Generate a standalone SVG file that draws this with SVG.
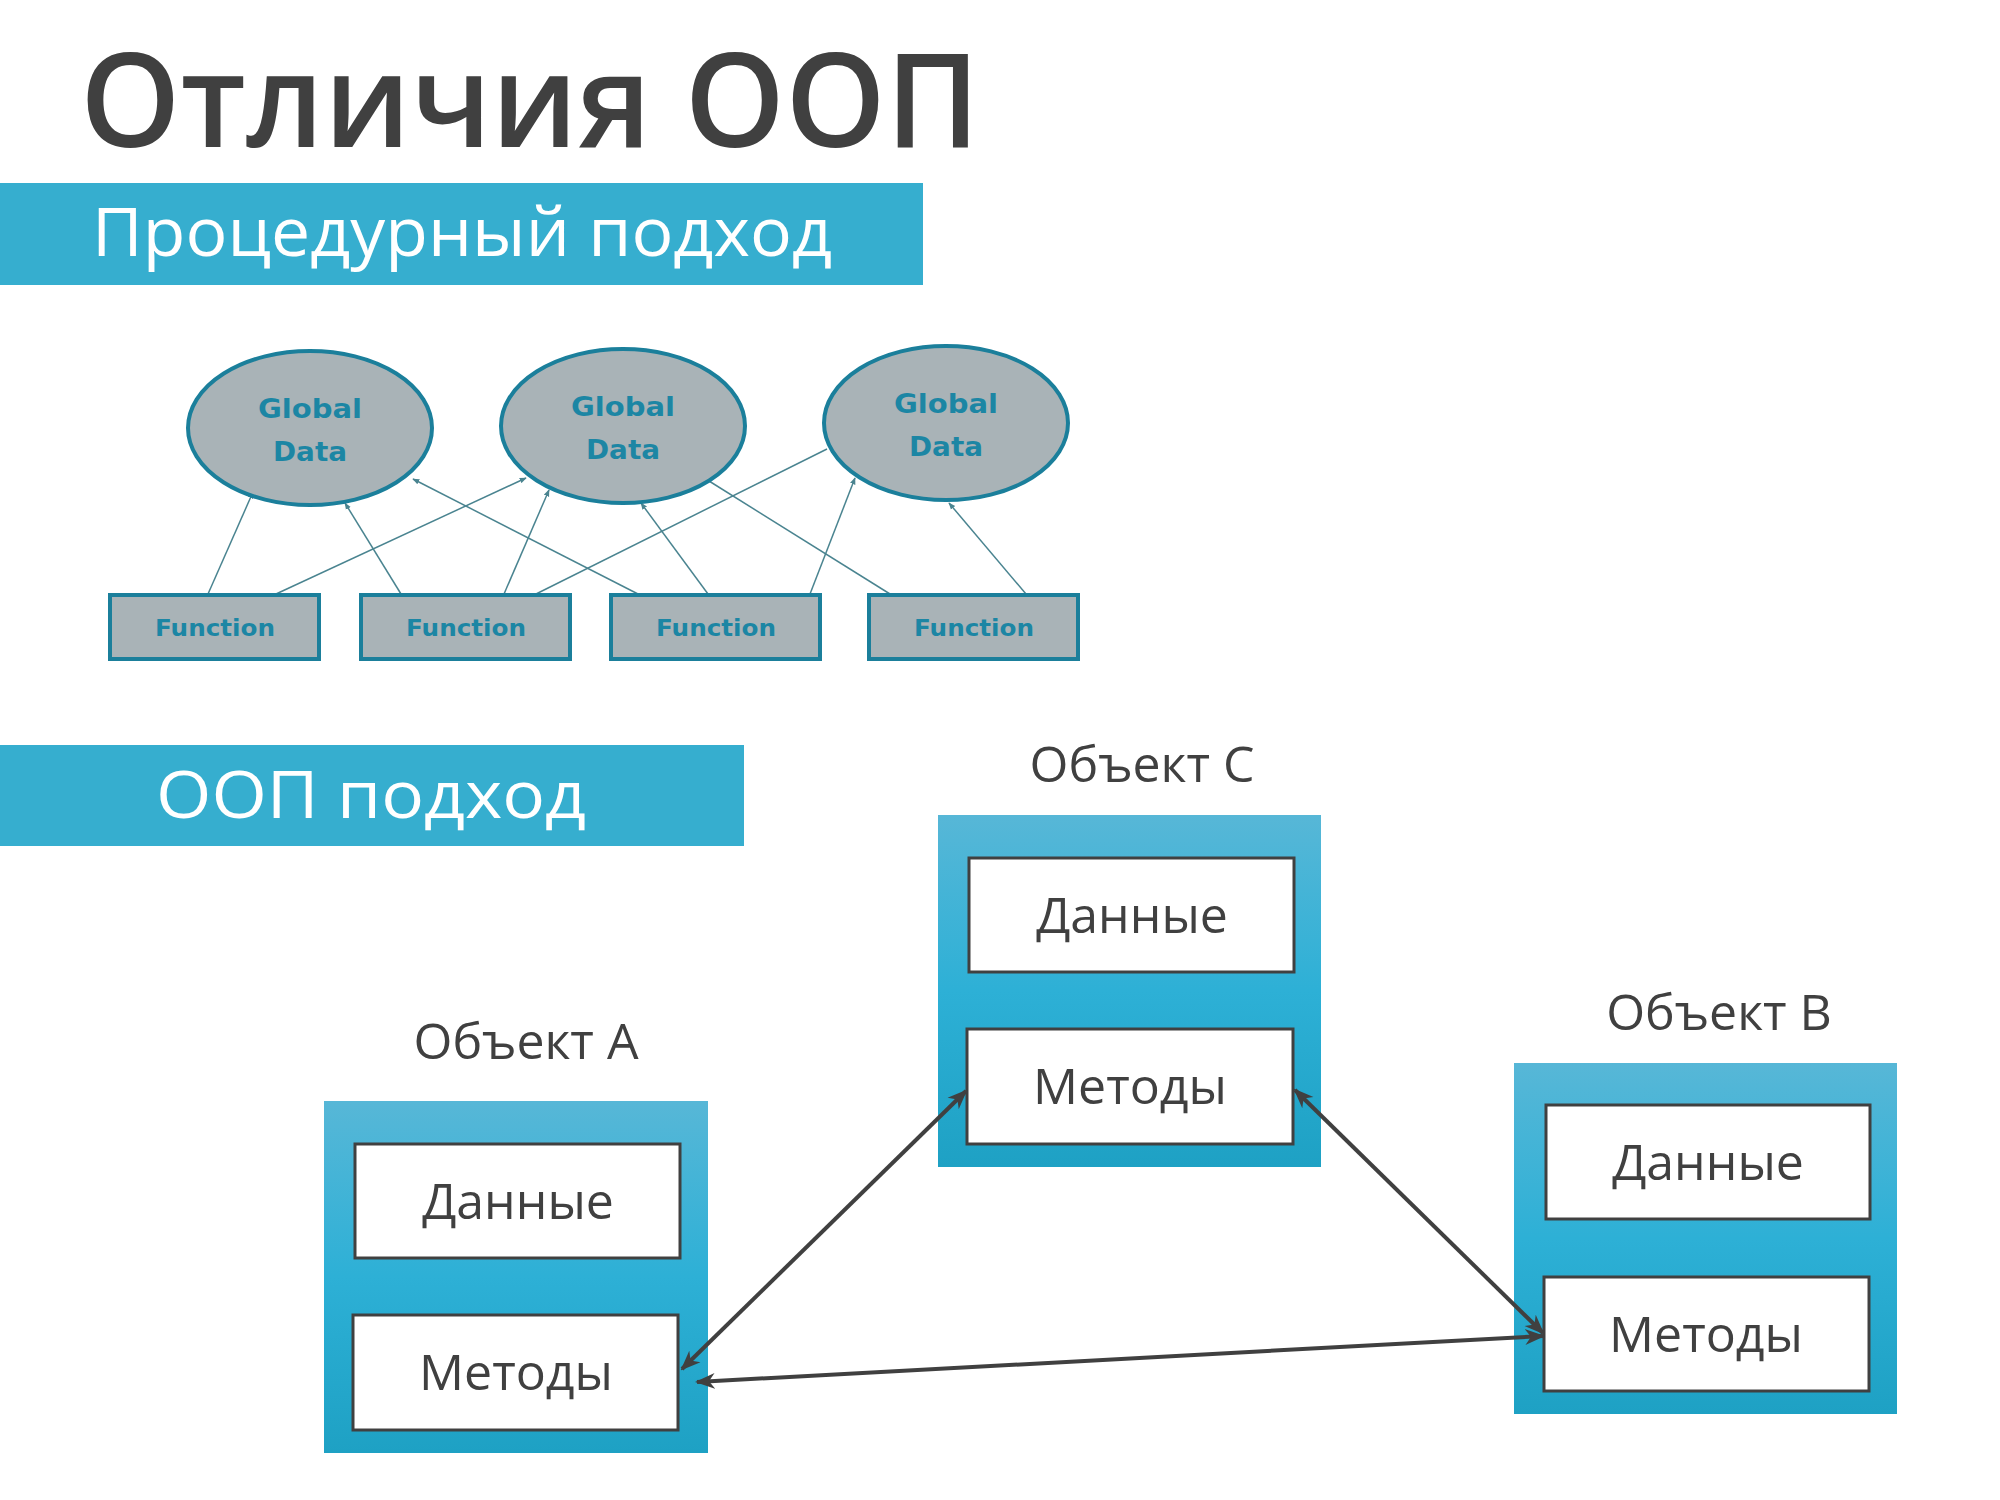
<svg xmlns="http://www.w3.org/2000/svg" width="2000" height="1500" viewBox="0 0 2000 1500">
<defs>
<style>
.title{font-family:"Open Sans","Noto Sans",sans-serif;font-weight:600;fill:#404040}
.ban{font-family:"Open Sans","Noto Sans",sans-serif;font-weight:500;fill:#ffffff}
.gd{font-family:"DejaVu Sans","Liberation Sans",sans-serif;font-weight:bold;fill:#1C86A4;font-size:27px;text-anchor:middle}
.fn{font-family:"DejaVu Sans","Liberation Sans",sans-serif;font-weight:bold;fill:#1C86A4;font-size:23px;text-anchor:middle}
.ell{fill:#A9B3B7;stroke:#1B7F9B;stroke-width:4}
.fbox{fill:#A9B3B7;stroke:#1B7F9B;stroke-width:4}
.thin{stroke:#4A8490;stroke-width:1.5;fill:none}
.lbl{font-family:"Open Sans","Noto Sans",sans-serif;font-weight:400;fill:#404040;font-size:50px;text-anchor:middle}
.inner{fill:#ffffff;stroke:#404040;stroke-width:3}
.it{font-family:"Open Sans","Noto Sans",sans-serif;font-weight:400;fill:#404040;font-size:50px;text-anchor:middle}
.dark{stroke:#404040;stroke-width:4;fill:none}
</style>
<linearGradient id="cg" x1="0" y1="0" x2="0" y2="1">
<stop offset="0" stop-color="#57B7D7"/>
<stop offset="0.5" stop-color="#2DB0D6"/>
<stop offset="1" stop-color="#1EA1C4"/>
</linearGradient>
<marker id="sa" viewBox="0 0 10 10" refX="9" refY="5" markerWidth="7" markerHeight="7" orient="auto" markerUnits="userSpaceOnUse">
<path d="M0,1 L10,5 L0,9 z" fill="#4A8490"/>
</marker>
<marker id="da" viewBox="0 0 10 10" refX="9" refY="5" markerWidth="20" markerHeight="20" orient="auto-start-reverse" markerUnits="userSpaceOnUse">
<path d="M0,1 L10,5 L0,9 L3,5 z" fill="#404040"/>
</marker>
</defs>
<rect width="2000" height="1500" fill="#ffffff"/>

<g id="title">
<text class="title" x="80" y="147" font-size="130" textLength="900" lengthAdjust="spacingAndGlyphs">Отличия ООП</text>
</g>

<g id="banner-proc">
<rect x="0" y="183" width="923" height="102" fill="#36AECF"/>
<text class="ban" x="92" y="256" font-size="68" textLength="740" lengthAdjust="spacingAndGlyphs">Процедурный подход</text>
</g>

<g id="connectors-proc">
<line class="thin" x1="208" y1="594" x2="253" y2="492" marker-end="url(#sa)"/>
<line class="thin" x1="276" y1="594" x2="526" y2="478" marker-end="url(#sa)"/>
<line class="thin" x1="401" y1="594" x2="345" y2="503" marker-end="url(#sa)"/>
<line class="thin" x1="504" y1="594" x2="549" y2="490" marker-end="url(#sa)"/>
<line class="thin" x1="536" y1="594" x2="827" y2="449"/>
<line class="thin" x1="638" y1="594" x2="413" y2="479" marker-end="url(#sa)"/>
<line class="thin" x1="708" y1="594" x2="641" y2="503" marker-end="url(#sa)"/>
<line class="thin" x1="810" y1="594" x2="855" y2="478" marker-end="url(#sa)"/>
<line class="thin" x1="890" y1="594" x2="709" y2="481"/>
<line class="thin" x1="1026" y1="594" x2="949" y2="503" marker-end="url(#sa)"/>
</g>

<g id="gd1"><ellipse class="ell" cx="310" cy="428" rx="122" ry="77"/><text class="gd" x="310" y="418" textLength="104" lengthAdjust="spacingAndGlyphs">Global</text><text class="gd" x="310" y="461" textLength="74" lengthAdjust="spacingAndGlyphs">Data</text></g>
<g id="gd2"><ellipse class="ell" cx="623" cy="426" rx="122" ry="77"/><text class="gd" x="623" y="416" textLength="104" lengthAdjust="spacingAndGlyphs">Global</text><text class="gd" x="623" y="459" textLength="74" lengthAdjust="spacingAndGlyphs">Data</text></g>
<g id="gd3"><ellipse class="ell" cx="946" cy="423" rx="122" ry="77"/><text class="gd" x="946" y="413" textLength="104" lengthAdjust="spacingAndGlyphs">Global</text><text class="gd" x="946" y="456" textLength="74" lengthAdjust="spacingAndGlyphs">Data</text></g>

<g id="f1"><rect class="fbox" x="110" y="595" width="209" height="64"/><text class="fn" x="215" y="636" textLength="120" lengthAdjust="spacingAndGlyphs">Function</text></g>
<g id="f2"><rect class="fbox" x="361" y="595" width="209" height="64"/><text class="fn" x="466" y="636" textLength="120" lengthAdjust="spacingAndGlyphs">Function</text></g>
<g id="f3"><rect class="fbox" x="611" y="595" width="209" height="64"/><text class="fn" x="716" y="636" textLength="120" lengthAdjust="spacingAndGlyphs">Function</text></g>
<g id="f4"><rect class="fbox" x="869" y="595" width="209" height="64"/><text class="fn" x="974" y="636" textLength="120" lengthAdjust="spacingAndGlyphs">Function</text></g>

<g id="banner-oop">
<rect x="0" y="745" width="744" height="101" fill="#36AECF"/>
<text class="ban" x="156" y="818" font-size="66" textLength="430" lengthAdjust="spacingAndGlyphs">ООП подход</text>
</g>

<g id="objC">
<text class="lbl" x="1142" y="782">Объект С</text>
<rect x="938" y="815" width="383" height="352" fill="url(#cg)"/>
<rect class="inner" x="969" y="858" width="325" height="114"/>
<text class="it" x="1132" y="933">Данные</text>
<rect class="inner" x="967" y="1029" width="326" height="115"/>
<text class="it" x="1130" y="1104">Методы</text>
</g>

<g id="objA">
<text class="lbl" x="526" y="1059">Объект А</text>
<rect x="324" y="1101" width="384" height="352" fill="url(#cg)"/>
<rect class="inner" x="355" y="1144" width="325" height="114"/>
<text class="it" x="518" y="1219">Данные</text>
<rect class="inner" x="353" y="1315" width="325" height="115"/>
<text class="it" x="516" y="1390">Методы</text>
</g>

<g id="objB">
<text class="lbl" x="1719" y="1030">Объект В</text>
<rect x="1514" y="1063" width="383" height="351" fill="url(#cg)"/>
<rect class="inner" x="1546" y="1105" width="324" height="114"/>
<text class="it" x="1708" y="1180">Данные</text>
<rect class="inner" x="1544" y="1277" width="325" height="114"/>
<text class="it" x="1706" y="1352">Методы</text>
</g>

<g id="connectors-oop">
<line class="dark" x1="682" y1="1369" x2="966" y2="1091" marker-start="url(#da)" marker-end="url(#da)"/>
<line class="dark" x1="1295" y1="1090" x2="1543" y2="1333" marker-start="url(#da)" marker-end="url(#da)"/>
<line class="dark" stroke-width="6" x1="697" y1="1382" x2="1543" y2="1336" marker-start="url(#da)" marker-end="url(#da)"/>
</g>
</svg>
